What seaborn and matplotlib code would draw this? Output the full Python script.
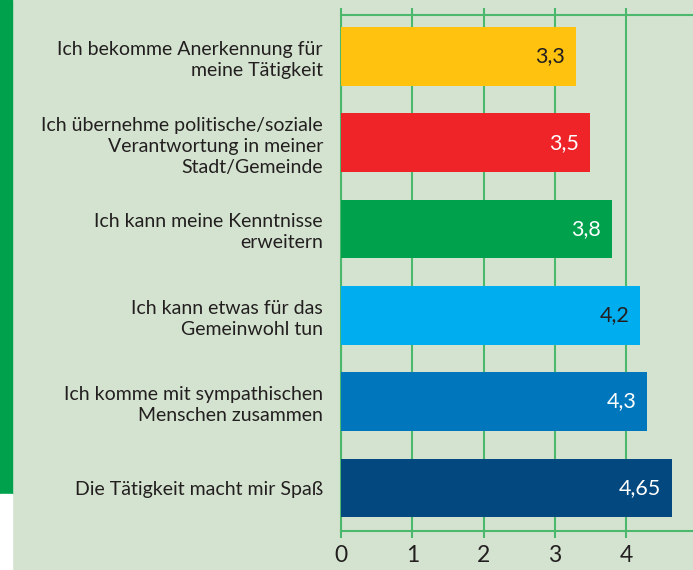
import pandas as pd
import seaborn as sns
from matplotlib import pyplot as plt
from matplotlib.patches import Rectangle

### data
labels = ['Ich bekomme Anerkennung für\nmeine Tätigkeit',
          'Ich übernehme politische/soziale\nVerantwortung in meiner\nStadt/Gemeinde',
          'Ich kann meine Kenntnisse\nerweitern',
          'Ich kann etwas für das\nGemeinwohl tun',
          'Ich komme mit sympathischen\nMenschen zusammen',
          'Die Tätigkeit macht mir Spaß']
values = [3.3, 3.5, 3.8, 4.2, 4.3, 4.65]
value_text = ['3,3', '3,5', '3,8', '4,2', '4,3', '4,65']
colors = ['#fec20f', '#ee2429', '#00a14c', '#00aeef', '#0077bc', '#03487e']
text_colors = ['#231f20', 'white', 'white', '#231f20', 'white', 'white']
xticks = [0, 1, 2, 3, 4]

bg = '#d4e3cf'
grid_green = '#4cb86e'
dark = '#231f20'

sns.set_style('white')
plt.rcParams['font.family'] = ['Lato', 'DejaVu Sans']

df = pd.DataFrame({'label': labels, 'value': values})

fig = plt.figure(figsize=(6.93, 5.7), dpi=100, facecolor=bg)
ax = fig.add_axes([341 / 693, 1 - 531 / 570, 1 - 341 / 693, (531 - 15) / 570])
ax.set_facecolor(bg)

# left green strip and white corner
fig.patches.append(Rectangle((0, 1 - 494 / 570), 12 / 693, 494 / 570,
                             transform=fig.transFigure, color='#00a14c', zorder=0))
fig.patches.append(Rectangle((0, 0), 12 / 693, 1 - 494 / 570,
                             transform=fig.transFigure, color='white', zorder=0))

sns.barplot(x='value', y='label', hue='label', data=df, palette=colors,
            orient='h', width=0.68, legend=False, saturation=1, linewidth=0,
            ax=ax, zorder=3)

ax.set_xlim(0, 4.94)
ax.set_ylim(5.5, -0.48)
ax.set_xticks(xticks)
ax.set_xlabel('')
ax.set_ylabel('')
ax.grid(axis='x', color=grid_green, linewidth=1.5, zorder=0)
ax.set_axisbelow(True)

for side in ['top', 'bottom', 'left']:
    ax.spines[side].set_color(grid_green)
    ax.spines[side].set_linewidth(1.5)
ax.spines['right'].set_visible(False)

ax.tick_params(axis='x', top=True, bottom=True, length=5, width=1.5, color=grid_green,
               direction='out', labelsize=16.5, labelcolor=dark, pad=5)
ax.tick_params(axis='y', length=0, pad=13, labelsize=14, labelcolor=dark)
for t in ax.get_yticklabels():
    t.set_horizontalalignment('right')
    t.set_multialignment('right')
    t.set_linespacing(1.28)

for i, v in enumerate(values):
    ax.annotate(value_text[i], (v, i), xytext=(-8, 0), textcoords='offset points',
                ha='right', va='center', fontsize=15.5, color=text_colors[i], zorder=5)

plt.savefig('out.png', dpi=100, facecolor=bg)
